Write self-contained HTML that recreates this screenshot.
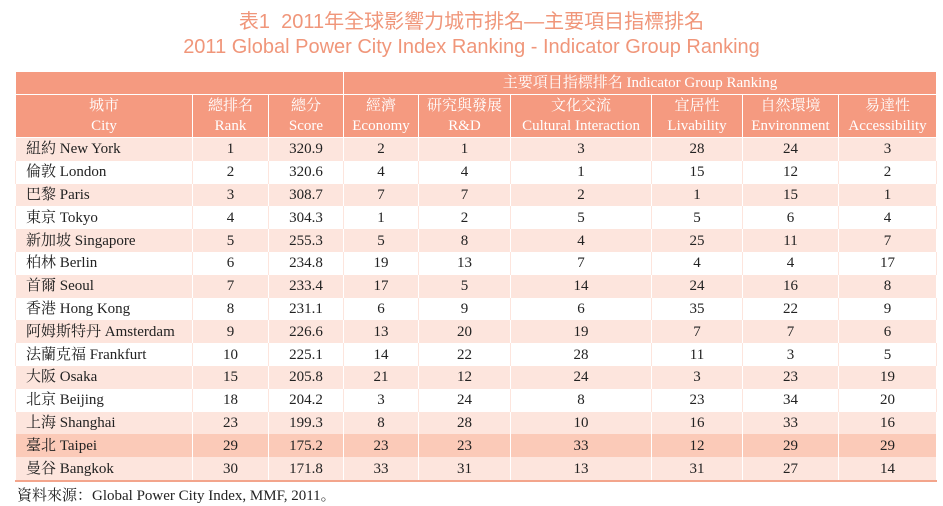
<!DOCTYPE html>
<html><head><meta charset="utf-8"><style>
body{margin:0;width:943px;height:506px;background:#fff;overflow:hidden;font-family:"Liberation Serif","Noto Serif CJK SC","Noto Sans CJK TC",serif;}
.t1{position:absolute;left:0;width:943px;text-align:center;top:5px;font:20px "Liberation Sans","Noto Sans CJK TC",sans-serif;color:#f0967a;}
.t2{position:absolute;left:0;width:943px;text-align:center;top:36px;font:20px "Liberation Sans","Noto Sans CJK TC",sans-serif;color:#f0967a;}
table{position:absolute;left:15px;top:71px;width:921px;border-collapse:collapse;table-layout:fixed;font-size:15px;color:#222;}
th{background:#f59a80;color:#fff;font-weight:normal;border:1px solid #fff;line-height:20px;padding:0;font-size:15px;overflow:hidden;white-space:nowrap;}
tr.r{height:22.8px;}
td{height:22.8px;line-height:20px;padding:0;text-align:center;border-left:1px solid #fff;border-right:1px solid #fff;overflow:hidden;white-space:nowrap;vertical-align:middle;}
td:first-child{text-align:left;padding-left:10px;}
tr.p td{background:#fde5dd;}
tr.w td{background:#fff;border-left-color:#fde5dd;border-right-color:#fde5dd;}
tr.tp td{background:#fbcab8;}
tr.last td{border-bottom:2px solid #f3a58c;}
.src{position:absolute;left:17px;top:484px;font-size:15px;color:#222;}
</style></head><body>
<div class="t1">表1&nbsp; 2011年全球影響力城市排名—主要項目指標排名</div>
<div class="t2">2011 Global Power City Index Ranking - Indicator Group Ranking</div>
<table>
<colgroup><col style="width:177px"><col style="width:76px"><col style="width:75px"><col style="width:75px"><col style="width:92px"><col style="width:141px"><col style="width:91px"><col style="width:96px"><col style="width:98px"></colgroup>
<tr style="height:23px"><th colspan="3"></th><th colspan="6">主要項目指標排名 Indicator Group Ranking</th></tr>
<tr style="height:43px">
<th>城市<br>City</th>
<th>總排名<br>Rank</th>
<th>總分<br>Score</th>
<th>經濟<br>Economy</th>
<th>研究與發展<br>R&amp;D</th>
<th>文化交流<br>Cultural Interaction</th>
<th>宜居性<br>Livability</th>
<th>自然環境<br>Environment</th>
<th>易達性<br>Accessibility</th>
</tr>
<tbody id="tb"></tbody>
</table>
<div class="src">資料來源：Global Power City Index, MMF, 2011。</div>
<script>
const cities=["紐約 New York","倫敦 London","巴黎 Paris","東京 Tokyo","新加坡 Singapore","柏林 Berlin","首爾 Seoul","香港 Hong Kong","阿姆斯特丹 Amsterdam","法蘭克福 Frankfurt","大阪 Osaka","北京 Beijing","上海 Shanghai","臺北 Taipei","曼谷 Bangkok"];
const ranks=[1,2,3,4,5,6,7,8,9,10,15,18,23,29,30];
const scores=["320.9","320.6","308.7","304.3","255.3","234.8","233.4","231.1","226.6","225.1","205.8","204.2","199.3","175.2","171.8"];
const economy=[2,4,7,1,5,19,17,6,13,14,21,3,8,23,33];
const rd=[1,4,7,2,8,13,5,9,20,22,12,24,28,23,31];
const cultural=[3,1,2,5,4,7,14,6,19,28,24,8,10,33,13];
const livability=[28,15,1,5,25,4,24,35,7,11,3,23,16,12,31];
const environment=[24,12,15,6,11,4,16,22,7,3,23,34,33,29,27];
const accessibility=[3,2,1,4,7,17,8,9,6,5,19,20,16,29,14];
const tb=document.getElementById('tb');
cities.forEach((c,i)=>{
 const tr=document.createElement('tr');
 
 
 tr.className='r '+(i===13?'tp':(i%2===0?'p':'w'))+(i===cities.length-1?' last':'');
 [c,ranks[i],scores[i],economy[i],rd[i],cultural[i],livability[i],environment[i],accessibility[i]].forEach((v,j)=>{
  const td=document.createElement('td');
  
  
  td.textContent=v;tr.appendChild(td);
 });
 tb.appendChild(tr);
});
</script>
</body></html>
